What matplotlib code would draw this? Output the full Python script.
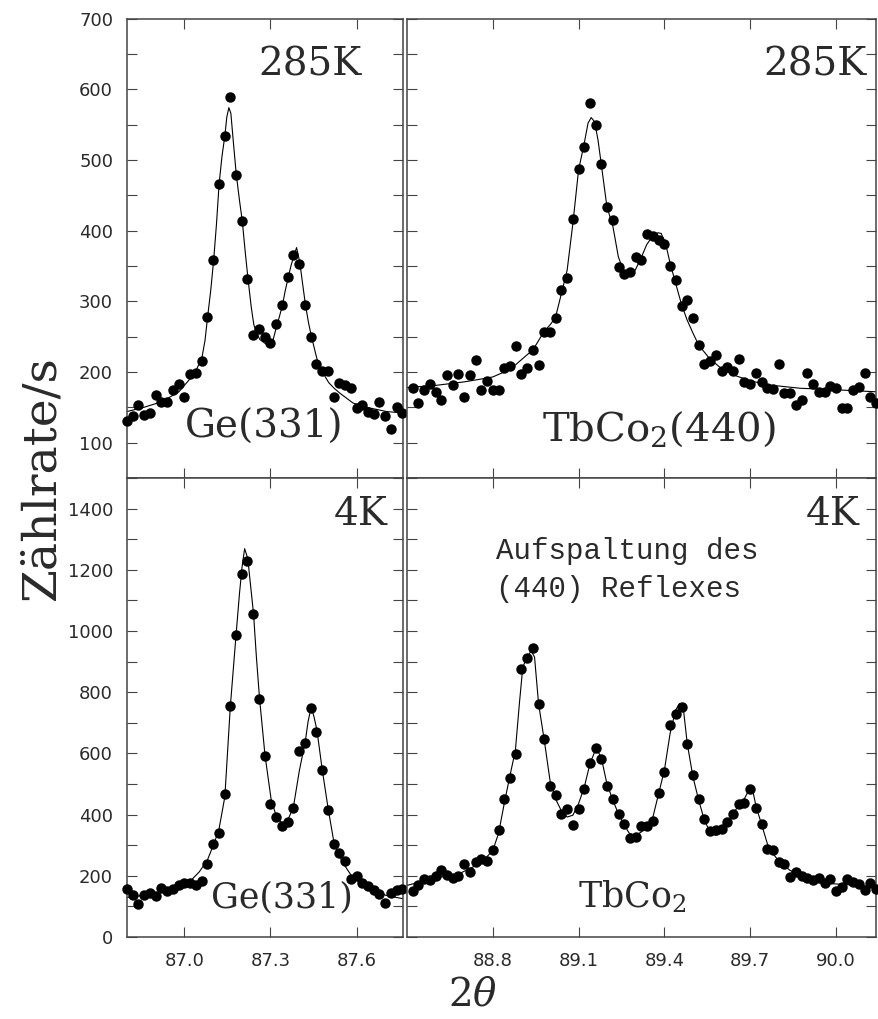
import matplotlib.pyplot as plt
from matplotlib.ticker import MultipleLocator

plt.rcParams['mathtext.fontset'] = 'dejavuserif'

# scan grids (2theta, degrees)
ge_theta = [86.80, 86.82, 86.84, 86.86, 86.88, 86.90, 86.92, 86.94, 86.96, 86.98,
            87.00, 87.02, 87.04, 87.06, 87.08, 87.10, 87.12, 87.14, 87.16, 87.18,
            87.20, 87.22, 87.24, 87.26, 87.28, 87.30, 87.32, 87.34, 87.36, 87.38,
            87.40, 87.42, 87.44, 87.46, 87.48, 87.50, 87.52, 87.54, 87.56, 87.58,
            87.60, 87.62, 87.64, 87.66, 87.68, 87.70, 87.72, 87.74, 87.76]
tbco_theta = [88.52, 88.54, 88.56, 88.58, 88.60, 88.62, 88.64, 88.66, 88.68, 88.70,
              88.72, 88.74, 88.76, 88.78, 88.80, 88.82, 88.84, 88.86, 88.88, 88.90,
              88.92, 88.94, 88.96, 88.98, 89.00, 89.02, 89.04, 89.06, 89.08, 89.10,
              89.12, 89.14, 89.16, 89.18, 89.20, 89.22, 89.24, 89.26, 89.28, 89.30,
              89.32, 89.34, 89.36, 89.38, 89.40, 89.42, 89.44, 89.46, 89.48, 89.50,
              89.52, 89.54, 89.56, 89.58, 89.60, 89.62, 89.64, 89.66, 89.68, 89.70,
              89.72, 89.74, 89.76, 89.78, 89.80, 89.82, 89.84, 89.86, 89.88, 89.90,
              89.92, 89.94, 89.96, 89.98, 90.00, 90.02, 90.04, 90.06, 90.08, 90.10,
              90.12, 90.14]

# measured count rates
ge_285 = [130, 138, 153, 139, 142, 168, 158, 158, 175, 183,
          165, 197, 199, 216, 278, 358, 466, 534, 589, 479,
          413, 331, 252, 261, 249, 241, 268, 295, 334, 365,
          353, 295, 249, 211, 201, 201, 164, 184, 182, 177,
          149, 153, 144, 141, 158, 138, 120, 150, 142]
tbco_285 = [178, 156, 175, 183, 171, 161, 196, 182, 197, 165,
            196, 217, 175, 187, 175, 175, 205, 208, 237, 197,
            205, 231, 210, 256, 256, 277, 316, 333, 417, 487,
            519, 580, 550, 494, 434, 415, 348, 338, 342, 363,
            358, 395, 392, 387, 381, 350, 330, 293, 302, 276,
            238, 211, 216, 224, 202, 207, 201, 219, 186, 183,
            198, 186, 178, 176, 211, 170, 170, 153, 160, 198,
            183, 172, 171, 180, 177, 149, 149, 175, 179, 199,
            164, 156]
ge_4 = [158, 136, 109, 136, 144, 133, 161, 150, 158, 169,
        178, 178, 169, 183, 238, 305, 341, 466, 754, 986,
        1185, 1229, 1055, 777, 592, 436, 392, 363, 376, 423,
        608, 635, 749, 670, 545, 416, 305, 275, 249, 191,
        199, 178, 166, 155, 140, 111, 144, 153, 158]
tbco_4 = [151, 171, 188, 186, 199, 218, 204, 194, 199, 240,
          211, 245, 256, 249, 283, 349, 451, 518, 599, 875,
          913, 945, 761, 647, 495, 463, 403, 417, 365, 417,
          485, 569, 619, 583, 494, 450, 403, 368, 322, 327,
          362, 362, 379, 472, 538, 694, 730, 752, 630, 529,
          452, 387, 347, 349, 354, 376, 403, 436, 439, 485,
          420, 368, 289, 283, 245, 238, 196, 213, 200, 194,
          186, 194, 175, 189, 151, 162, 191, 180, 172, 155,
          178, 157]

# fitted curves
ge_285_fit_x = [86.800, 86.859, 86.922, 86.981, 87.021, 87.042, 87.062, 87.072, 87.081, 87.092,
                87.102, 87.112, 87.121, 87.131, 87.141, 87.148, 87.155, 87.162, 87.171, 87.181,
                87.192, 87.202, 87.212, 87.222, 87.233, 87.242, 87.252, 87.263, 87.283, 87.298,
                87.309, 87.321, 87.331, 87.342, 87.351, 87.362, 87.372, 87.381, 87.391, 87.402,
                87.412, 87.422, 87.433, 87.443, 87.463, 87.484, 87.503, 87.522, 87.542, 87.588,
                87.647, 87.705, 87.763]
ge_285_fit_y = [144, 150, 158, 172, 191, 203, 222, 245, 278, 316,
                358, 410, 466, 505, 534, 561, 574, 566, 524, 479,
                443, 413, 370, 331, 292, 267, 255, 246, 240, 237,
                245, 264, 278, 295, 314, 334, 351, 363, 376, 356,
                325, 295, 269, 250, 217, 198, 185, 177, 170, 156,
                149, 144, 142]
tbco_285_fit_x = [88.500, 88.600, 88.700, 88.759, 88.800, 88.840, 88.879, 88.919, 88.940, 88.979,
                  89.001, 89.019, 89.040, 89.060, 89.080, 89.100, 89.120, 89.133, 89.144, 89.156,
                  89.168, 89.179, 89.199, 89.220, 89.239, 89.260, 89.278, 89.298, 89.318, 89.338,
                  89.358, 89.378, 89.389, 89.407, 89.420, 89.439, 89.459, 89.479, 89.500, 89.520,
                  89.558, 89.599, 89.640, 89.698, 89.757, 89.874, 89.990, 90.140]
tbco_285_fit_y = [178, 181, 186, 190, 193, 200, 210, 224, 231, 257,
                  267, 277, 311, 344, 410, 486, 524, 552, 560, 554,
                  528, 495, 434, 406, 363, 340, 335, 344, 361, 380,
                  392, 397, 396, 377, 354, 326, 297, 274, 255, 238,
                  219, 205, 196, 188, 182, 177, 175, 172]
ge_4_fit_x = [86.799, 86.890, 86.959, 87.000, 87.023, 87.052, 87.080, 87.101, 87.120, 87.141,
              87.160, 87.180, 87.192, 87.201, 87.210, 87.221, 87.230, 87.241, 87.251, 87.262,
              87.281, 87.302, 87.321, 87.341, 87.360, 87.380, 87.401, 87.421, 87.431, 87.442,
              87.452, 87.462, 87.480, 87.501, 87.521, 87.541, 87.562, 87.581, 87.601, 87.645,
              87.703, 87.762]
ge_4_fit_y = [129, 140, 158, 169, 185, 213, 251, 300, 349, 458,
              752, 986, 1122, 1209, 1269, 1237, 1155, 1057, 915, 779,
              594, 452, 392, 371, 381, 425, 545, 637, 703, 752,
              719, 676, 550, 420, 311, 262, 229, 202, 185, 158,
              136, 125]
tbco_4_fit_x = [88.502, 88.590, 88.683, 88.742, 88.779, 88.800, 88.820, 88.840, 88.859, 88.879,
                88.893, 88.905, 88.920, 88.934, 88.946, 88.960, 88.980, 89.000, 89.019, 89.039,
                89.060, 89.080, 89.100, 89.120, 89.140, 89.161, 89.179, 89.199, 89.220, 89.239,
                89.260, 89.278, 89.299, 89.319, 89.339, 89.360, 89.380, 89.400, 89.420, 89.439,
                89.453, 89.467, 89.480, 89.500, 89.520, 89.540, 89.560, 89.579, 89.600, 89.620,
                89.640, 89.660, 89.680, 89.698, 89.710, 89.721, 89.741, 89.760, 89.780, 89.803,
                89.839, 89.874, 89.932, 89.990, 90.140]
tbco_4_fit_y = [169, 191, 207, 234, 262, 283, 338, 436, 523, 610,
                763, 883, 913, 935, 915, 763, 643, 512, 452, 414,
                392, 398, 436, 490, 567, 616, 588, 501, 447, 403,
                365, 338, 332, 343, 365, 392, 469, 545, 665, 741,
                763, 741, 632, 523, 447, 381, 343, 332, 343, 371,
                403, 430, 452, 485, 474, 425, 365, 305, 272, 245,
                218, 202, 185, 174, 164]

ge_ticks = [87.0, 87.3, 87.6]
tbco_ticks = [88.8, 89.1, 89.4, 89.7, 90.0]

W, H = 879, 1019
fig = plt.figure(figsize=(W / 100, H / 100), dpi=100)
frame_col = '#444444'
text_col = '#2a2a2a'


def px_axes(x0, y0, x1, y1):
    return fig.add_axes([x0 / W, 1 - y1 / H, (x1 - x0) / W, (y1 - y0) / H])


def ftext(x, y, s, **kw):
    kw.setdefault('color', text_col)
    fig.text(x / W, 1 - y / H, s, **kw)


def style(ax, xlim, ylim, xticks, ymaj, ymin, left_labels, bottom_labels):
    ax.set_xlim(*xlim)
    ax.set_ylim(*ylim)
    ax.set_xticks(xticks)
    ax.set_xticklabels([f'{t:.1f}' for t in xticks])
    ax.yaxis.set_major_locator(MultipleLocator(ymaj))
    ax.yaxis.set_minor_locator(MultipleLocator(ymin))
    for s in ax.spines.values():
        s.set_color(frame_col)
        s.set_linewidth(1.1)
    ax.tick_params(which='both', direction='in', top=True, right=True,
                   length=7, width=0.8, color=frame_col,
                   labelleft=left_labels, labelbottom=bottom_labels,
                   labelsize=13, labelcolor=text_col)
    ax.tick_params(axis='y', pad=10)
    ax.tick_params(axis='x', pad=11)


def draw(ax, theta, counts, fit_x, fit_y):
    ax.plot(fit_x, fit_y, color='black', lw=0.8)
    ax.plot(theta, counts, 'o', ms=6.5, color='black', clip_on=False, zorder=3)


ax_tl = px_axes(127, 18.6, 403, 478)
ax_tr = px_axes(407, 18.6, 876, 478)
ax_bl = px_axes(127, 478, 403, 937)
ax_br = px_axes(407, 478, 876, 937)

draw(ax_tl, ge_theta, ge_285, ge_285_fit_x, ge_285_fit_y)
draw(ax_tr, tbco_theta, tbco_285, tbco_285_fit_x, tbco_285_fit_y)
draw(ax_bl, ge_theta, ge_4, ge_4_fit_x, ge_4_fit_y)
draw(ax_br, tbco_theta, tbco_4, tbco_4_fit_x, tbco_4_fit_y)

style(ax_tl, (86.80, 87.762), (50, 700), ge_ticks, 100, 50, True, False)
style(ax_tr, (88.50, 90.14), (50, 700), tbco_ticks, 100, 50, False, False)
style(ax_bl, (86.80, 87.762), (0, 1500), ge_ticks, 200, 100, True, True)
style(ax_br, (88.50, 90.14), (0, 1500), tbco_ticks, 200, 100, False, True)
ax_tl.set_yticks([100, 200, 300, 400, 500, 600, 700])
ax_bl.set_yticks([0, 200, 400, 600, 800, 1000, 1200, 1400])

serif = 'DejaVu Serif'
ftext(362, 75, '285K', ha='right', va='baseline', fontsize=28, family=serif)
ftext(867, 75, '285K', ha='right', va='baseline', fontsize=28, family=serif)
ftext(185, 438, 'Ge(331)', ha='left', va='baseline', fontsize=28, family=serif)
ftext(542, 441, r'TbCo$_2$(440)', ha='left', va='baseline', fontsize=29, family=serif)
ftext(388, 525, '4K', ha='right', va='baseline', fontsize=28, family=serif)
ftext(860, 525, '4K', ha='right', va='baseline', fontsize=28, family=serif)
ftext(496, 559, 'Aufspaltung des', ha='left', va='baseline', fontsize=21,
      family='Liberation Mono')
ftext(496, 597, '(440) Reflexes', ha='left', va='baseline', fontsize=21,
      family='Liberation Mono')
ftext(211, 907, 'Ge(331)', ha='left', va='baseline', fontsize=25, family=serif)
ftext(578, 907, r'TbCo$_2$', ha='left', va='baseline', fontsize=25, family=serif)

ftext(42, 478, 'Zählrate/s', rotation=90, ha='center', va='center', fontsize=34,
      family=serif)
ftext(473, 995, r'$2\theta$', ha='center', va='center', fontsize=28)

fig.savefig('out.png', dpi=100)
